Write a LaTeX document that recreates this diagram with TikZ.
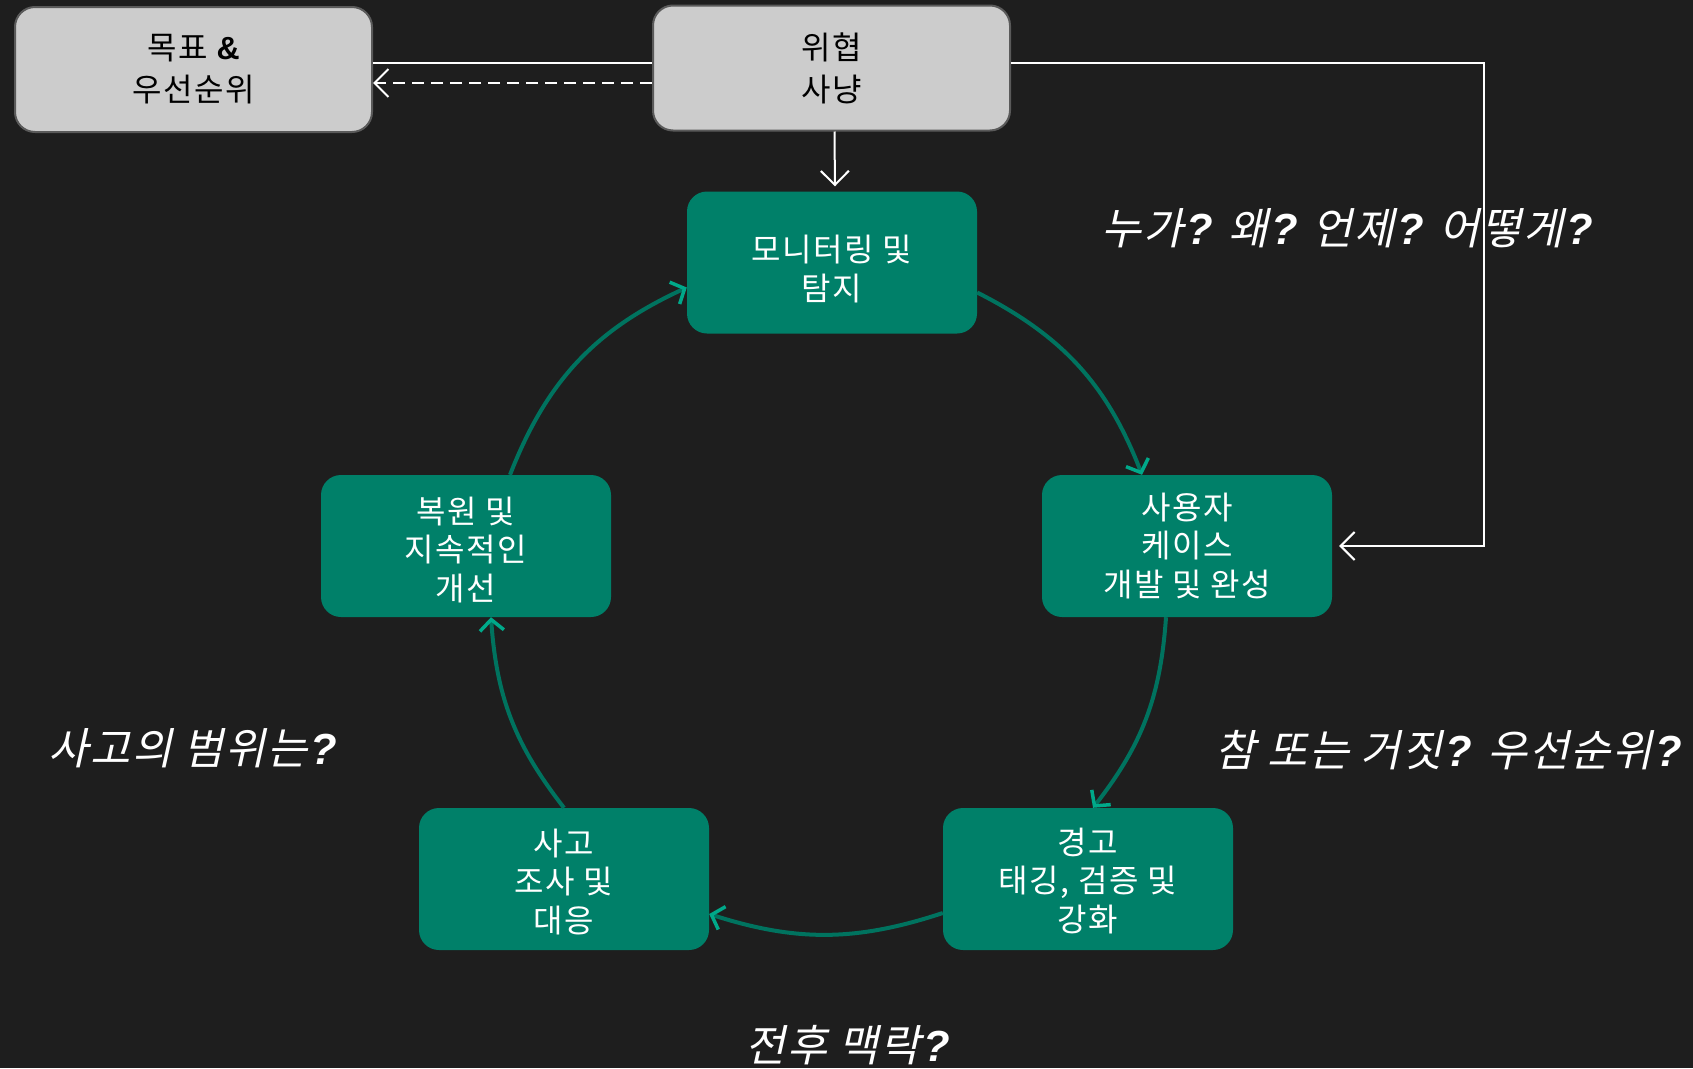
\documentclass[tikz,border=0pt]{standalone}
\usepackage{fontspec}
\setmainfont{Noto Sans CJK KR}[LetterSpace=5]
\newfontfamily\itk[FakeSlant=0.22,LetterSpace=4]{Noto Sans CJK KR}
\newfontfamily\lsans{Liberation Sans}
\usetikzlibrary{arrows.meta}
\definecolor{bgc}{HTML}{1E1E1E}
\definecolor{boxg}{HTML}{008069}
\definecolor{arcc}{HTML}{00735F}
\definecolor{tipc}{HTML}{00A98A}
\definecolor{grayf}{HTML}{CCCCCC}
\definecolor{grayd}{HTML}{5A5A5A}
\newcommand{\qm}{{\lsans\bfseries\itshape\kern3pt ?}}
\newcommand{\btext}[2][-6pt]{\raisebox{#1}[\height][\depth]{\begin{tabular}{@{}c@{}}#2\end{tabular}}}
\begin{document}
\begin{tikzpicture}[x=1pt,y=-1pt,
  greenbox/.style={fill=boxg, rounded corners=20pt, minimum width=290pt, minimum height=142pt,
    text=white, font=\fontsize{32}{38.5}\selectfont, inner sep=0pt},
  graybox/.style={fill=grayf, draw=grayd, line width=2pt, rounded corners=20pt, minimum width=357pt, minimum height=125pt,
    text=black, align=center, font=\fontsize{32}{42}\selectfont, inner sep=0pt},
  cyc/.style={draw=arcc, line width=4pt, -{Straight Barb[length=11pt,width=24pt,line width=3.5pt,color=tipc]}},
  wline/.style={draw=white, line width=2pt},
  wtip/.style={-{Straight Barb[length=14pt,width=28pt,line width=2pt]}},
  qlabel/.style={text=white, font=\fontsize{43.5}{50}\selectfont\itk, inner sep=0pt}
]
\fill[bgc] (0,0) rectangle (1693,1068);
\useasboundingbox (0,0) rectangle (1693,1068);

\node[graybox] (goal) at (193.5,69.5) {목표 {\lsans\bfseries\&}\\우선순위};
\node[graybox] (hunt) at (831.5,68) {위협\\사냥};

\node[greenbox] (mon) at (832,262.5) {\btext[-11pt]{모니터링 및\\탐지}};
\node[greenbox] (uc)  at (1187,546) {\btext[-4pt]{사용자\\케이스\\개발 및 완성}};
\node[greenbox] (al)  at (1088,879) {\btext[-6pt]{경고\\태깅, 검증 및\\강화}};
\node[greenbox] (inc) at (564,879) {\btext[-7pt]{사고\\조사 및\\대응}};
\node[greenbox] (rec) at (466,546) {\btext[-8pt]{복원 및\\지속적인\\개선}};

\node[qlabel] (q1) at (1347,228) {누가\qm{} 왜\qm{} 언제\qm{} 어떻게\qm};
\node[qlabel] (q2) at (1449,750) {참 또는 거짓\qm{} 우선순위\qm};
\node[qlabel] (q3) at (193,748) {사고의 범위는\qm};
\node[qlabel] (q4) at (848,1045) {전후 맥락\qm};

% top connectors
\draw[wline] ([yshift=5pt]hunt.west) -- ([yshift=5pt]hunt.west -| goal.east);
\draw[wline, wtip, dash pattern=on 12pt off 7pt] ([yshift=-15pt]hunt.west) -- ([yshift=-15pt]hunt.west -| goal.east);
\draw[wline, wtip, shorten >=5pt] ([xshift=3pt]hunt.south) -- ([xshift=3pt]mon.north);
\coordinate (corner) at (1484,546);
\draw[wline, wtip, shorten >=7pt] ([yshift=5pt]hunt.east) -| (corner) -- (corner -| uc.east);

% cycle
\draw[cyc] ([yshift=-30pt]mon.east) to[bend left=21] ([xshift=-45pt]uc.north);
\draw[cyc] ([xshift=-21pt]uc.south) to[bend left=17] ([xshift=5pt]al.north);
\draw[cyc] ([yshift=-34pt]al.west) to[bend left=18] ([yshift=-35pt]inc.east);
\draw[cyc] (inc.north) to[bend left=17] ([xshift=25pt]rec.south);
\draw[cyc] ([xshift=44pt]rec.north) to[bend left=22] ([yshift=-25pt]mon.west);
\end{tikzpicture}
\end{document}
